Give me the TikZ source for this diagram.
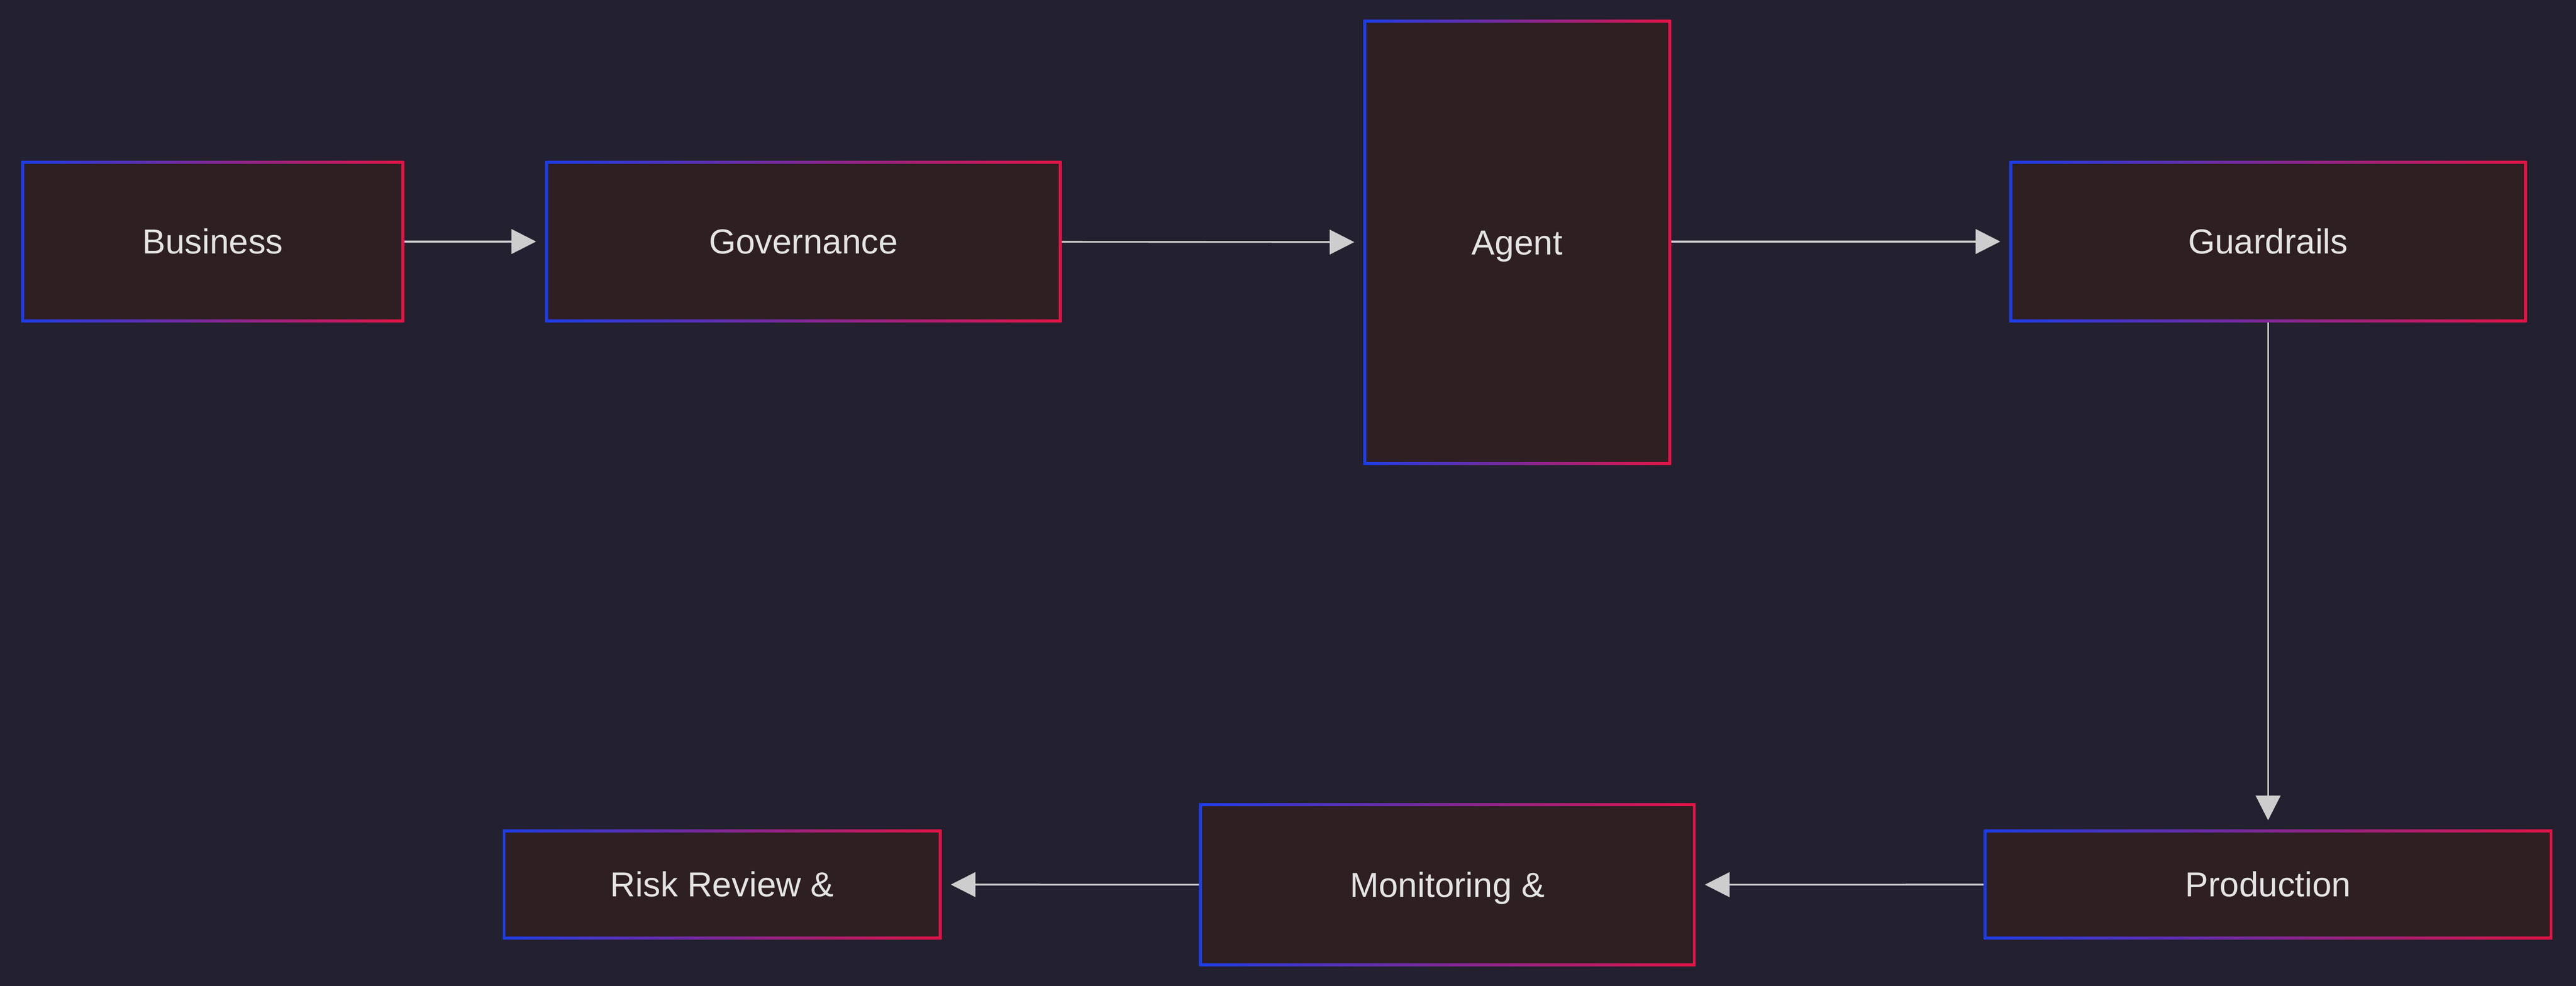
\documentclass[tikz,border=0pt]{standalone}
\usepackage{fontspec}
\setmainfont{Liberation Sans}
\usetikzlibrary{arrows.meta, positioning}
\definecolor{bgcolor}{RGB}{35, 33, 47}
\definecolor{boxcolor}{RGB}{45, 31, 34}
\definecolor{edgeblue}{RGB}{30, 60, 230}
\definecolor{edgered}{RGB}{225, 20, 70}
\definecolor{textcolor}{RGB}{228, 228, 228}
\definecolor{flowcolor}{RGB}{205, 205, 205}
\tikzset{
  stage/.style={left color=edgeblue, right color=edgered, inner sep=0pt,
    text=textcolor, font=\fontsize{20}{24}\selectfont, text depth=0pt, text height=0.5cm,
    path picture={\fill[boxcolor] ([shift={(1.6pt,1.6pt)}]path picture bounding box.south west) rectangle ([shift={(-1.6pt,-1.6pt)}]path picture bounding box.north east);}},
  flow/.style={draw=flowcolor, line width=1pt, -{Triangle[length=0.5cm, width=0.5cm]}, fill=flowcolor, shorten >=0.18cm}
}
\begin{document}
\begin{tikzpicture}
    % background
    \fill[bgcolor] (0,0) rectangle (52.2,-19.98);
    \useasboundingbox (0,0) rectangle (52.2,-19.98);

    % top row
    \node[stage, minimum width=7.76cm, minimum height=3.27cm] (business) at (4.31,-4.895) {Business};
    \node[stage, minimum width=10.46cm, minimum height=3.27cm] (governance) at (16.28,-4.895) {Governance};
    \node[stage, minimum width=6.23cm, minimum height=9.02cm] (agent) at (30.745,-4.91) {Agent};
    \node[stage, minimum width=10.48cm, minimum height=3.27cm] (guardrails) at (45.96,-4.895) {Guardrails};

    % bottom row
    \node[stage, minimum width=11.52cm, minimum height=2.23cm] (production) at (45.96,-17.925) {Production};
    \node[stage, minimum width=10.06cm, minimum height=3.3cm] (monitoring) at (29.33,-17.93) {Monitoring \&};
    \node[stage, minimum width=8.89cm, minimum height=2.23cm] (risk) at (14.635,-17.925) {Risk Review \&};

    % flows
    \draw[flow] (business) -- (governance);
    \draw[flow] (governance) -- (agent);
    \draw[flow] (agent.east |- guardrails.west) -- (guardrails);
    \draw[flow] (guardrails) -- (production);
    \draw[flow] (production) -- (monitoring);
    \draw[flow] (monitoring) -- (risk);
\end{tikzpicture}
\end{document}
